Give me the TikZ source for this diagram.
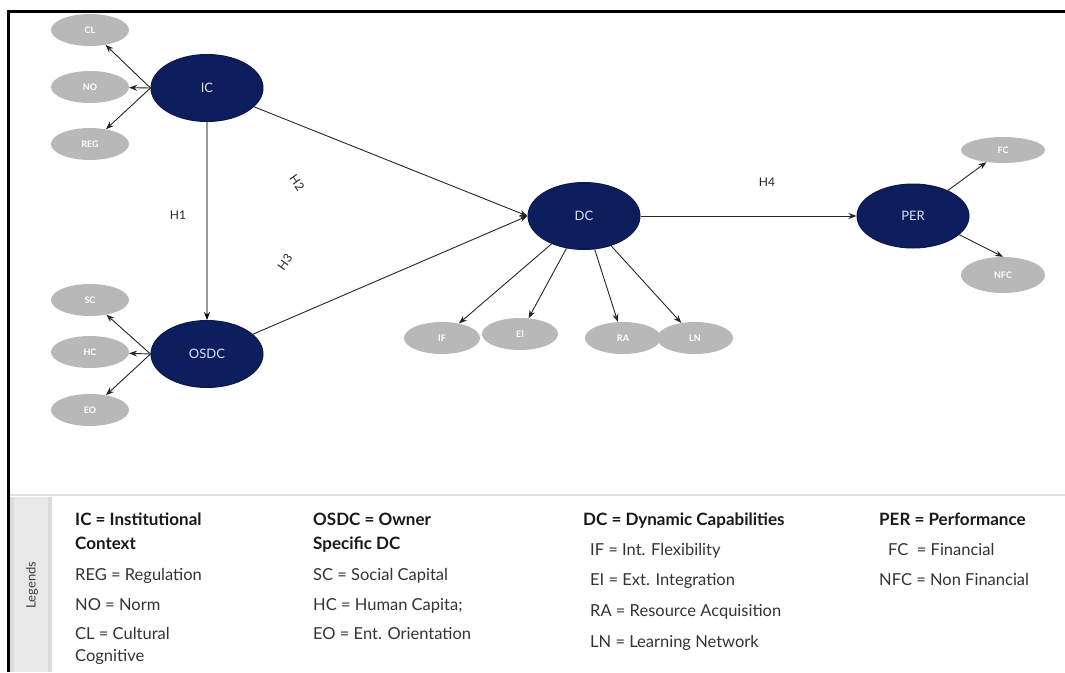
\documentclass[tikz,border=0pt]{standalone}
\usepackage{fontspec}
\setmainfont{Lato}
\usetikzlibrary{arrows.meta,shapes.geometric}
\definecolor{navy}{RGB}{12,30,92}
\definecolor{ltgrey}{RGB}{184,184,184}
\definecolor{nodetxt}{RGB}{215,225,245}
\begin{document}
\begin{tikzpicture}[x=1pt,y=-1pt,
  latent/.style={ellipse,draw=navy!80!black,line width=1pt,fill=navy,text=nodetxt,minimum width=112pt,minimum height=67pt,inner sep=0pt,font=\fontsize{13}{15}\selectfont},
  indic/.style={ellipse,fill=ltgrey,text=white,minimum width=78pt,minimum height=32pt,inner sep=0pt,font=\fontsize{9}{10}\selectfont\bfseries},
  arr/.style={-{Stealth[length=8pt,width=6pt]},line width=0.9pt,draw=black!85},
  hlab/.style={font=\fontsize{12}{14}\selectfont,text=black!85,inner sep=1pt},
  leghead/.style={anchor=base west,inner sep=0pt,font=\fontsize{17}{20}\selectfont\bfseries,text=black!90},
  legitem/.style={anchor=base west,inner sep=0pt,font=\fontsize{16.5}{20}\selectfont,text=black!80}
]
\useasboundingbox (0,0) rectangle (1065,672);
\fill[white] (0,0) rectangle (1065,672);
% frame
\draw[line width=3pt,black] (1065,11) -- (8.5,11) -- (8.5,672);
% legend separator and band
\draw[line width=2pt,black!12] (10,495) -- (1065,495);
\fill[black!14] (10,497) rectangle (52,672);
\fill[black!9] (14,497) rectangle (48,672);
\node[rotate=90,font=\fontsize{13}{15}\selectfont,text=black!75] (leg) at (32,585) {Legends};

% latent nodes
\node[latent] (IC) at (207,88) {IC};
\node[latent] (OSDC) at (207,354) {OSDC};
\node[latent] (DC) at (584,216) {DC};
\node[latent,minimum height=64pt] (PER) at (913,216) {PER};

% indicators
\node[indic] (CL) at (90,30) {CL};
\node[indic] (NO) at (90,87) {NO};
\node[indic] (REG) at (90,144) {REG};
\node[indic] (SC) at (90,300) {SC};
\node[indic] (HC) at (90,352) {HC};
\node[indic] (EO) at (90,410) {EO};
\node[indic,minimum width=76pt] (IF) at (442,338) {IF};
\node[indic,minimum width=76pt] (EI) at (520,334) {EI};
\node[indic,minimum width=76pt] (RA) at (623,338) {RA};
\node[indic,minimum width=76pt] (LN) at (695,338) {LN};
\node[indic,minimum width=84pt,minimum height=26pt] (FC) at (1003,150) {FC};
\node[indic,minimum width=84pt,minimum height=36pt] (NFC) at (1003,275) {NFC};

% indicator arrows
\draw[arr] (IC.west) -- (CL);
\draw[arr] (IC.west) -- (NO);
\draw[arr] (IC.west) -- (REG);
\draw[arr] (OSDC.west) -- (SC);
\draw[arr] (OSDC.west) -- (HC);
\draw[arr] (OSDC.west) -- (EO);
\draw[arr] (DC) -- (IF);
\draw[arr] (DC) -- (EI);
\draw[arr] (DC) -- (RA);
\draw[arr] (DC) -- (LN);
\draw[arr] (PER) -- (FC);
\draw[arr] (PER.-22) -- (NFC.north);

% structural paths
\draw[-{Stealth[length=8pt,width=6pt,color=black]},line width=1.4pt,draw=black!40] (IC) -- (OSDC);
\draw[arr] (IC) -- (DC.west);
\draw[arr] (OSDC) -- (DC.west);
\draw[arr] (DC) -- (PER);

% hypothesis labels
\node[hlab] (h1) at (178,215) {H1};
\node[hlab,rotate=-55] (h2) at (297,183) {H2};
\node[hlab,rotate=55] (h3) at (285,262) {H3};
\node[hlab] (h4) at (767,182) {H4};

% legend text
\node[leghead] (l1) at (75,525) {IC = Institutional};
\node[leghead] (l1b) at (75,549) {Context};
\node[legitem] (l1c) at (75,580) {REG = Regulation};
\node[legitem] (l1d) at (75,610) {NO = Norm};
\node[legitem] (l1e) at (75,639) {CL = Cultural};
\node[legitem] (l1f) at (75,661) {Cognitive};

\node[leghead] (l2) at (313,525) {OSDC = Owner};
\node[leghead] (l2b) at (313,549) {Specific DC};
\node[legitem] (l2c) at (313,580) {SC = Social Capital};
\node[legitem] (l2d) at (313,610) {HC = Human Capita;};
\node[legitem] (l2e) at (313,639) {EO = Ent. Orientation};

\node[leghead] (l3) at (583,525) {DC = Dynamic Capabilities};
\node[legitem] (l3b) at (590,555) {IF = Int. Flexibility};
\node[legitem] (l3c) at (590,585) {EI = Ext. Integration};
\node[legitem] (l3d) at (590,616) {RA = Resource Acquisition};
\node[legitem] (l3e) at (590,647) {LN = Learning Network};

\node[leghead] (l4) at (879,525) {PER = Performance};
\node[legitem] (l4b) at (888,555) {FC \ = Financial};
\node[legitem] (l4c) at (879,585) {NFC = Non Financial};
\end{tikzpicture}
\end{document}
